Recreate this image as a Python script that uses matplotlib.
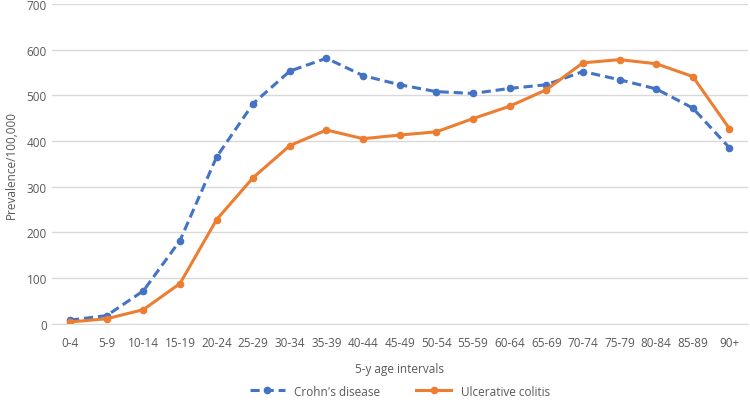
import matplotlib
matplotlib.use("Agg")
import matplotlib.pyplot as plt

age_groups = ["0-4", "5-9", "10-14", "15-19", "20-24", "25-29", "30-34", "35-39",
              "40-44", "45-49", "50-54", "55-59", "60-64", "65-69", "70-74",
              "75-79", "80-84", "85-89", "90+"]
crohns = [8, 18, 72, 182, 365, 482, 553, 581, 543, 523, 508, 504, 515, 523,
          552, 534, 514, 472, 385]
colitis = [4, 11, 31, 88, 228, 320, 390, 424, 405, 413, 420, 449, 476, 512,
           571, 578, 569, 541, 427]

plt.rcParams['font.family'] = ['Open Sans', 'DejaVu Sans']
grey = "#595959"

fig = plt.figure(figsize=(7.5, 4.06), dpi=100)
ax = fig.add_axes([0.069, 0.2, 0.928, 0.788])

x = range(len(age_groups))
ax.plot(x, crohns, color="#4472C4", linestyle=(0, (3, 1.6)), linewidth=2.2,
        marker="o", markersize=4.5, label="Crohn's disease")
ax.plot(x, colitis, color="#ED7D31", linewidth=2.2,
        marker="o", markersize=4.5, label="Ulcerative colitis")

ax.set_ylim(0, 700)
ax.set_yticks(range(0, 701, 100))
ax.set_xlim(-0.5, len(age_groups) - 0.5)
ax.set_xticks(list(x))
ax.set_xticklabels(age_groups)
ax.grid(axis="y", color="#D9D9D9", linewidth=1)
ax.set_axisbelow(True)
for s in ["top", "right", "left"]:
    ax.spines[s].set_visible(False)
ax.spines["bottom"].set_color("#D9D9D9")
ax.tick_params(length=0, colors=grey, labelsize=8.5)
ax.tick_params(axis="x", pad=9)

ax.set_xlabel("5-y age intervals", color=grey, fontsize=8.5, labelpad=9)
ax.set_ylabel("Prevalence/100,000", color=grey, fontsize=8.5, labelpad=6)

ax.legend(loc="upper center", bbox_to_anchor=(0.5, -0.168), ncol=2, frameon=False,
          fontsize=8.5, labelcolor=grey, handlelength=3.0, columnspacing=3.0,
          borderaxespad=0.2)

fig.savefig("out.png", dpi=100)
